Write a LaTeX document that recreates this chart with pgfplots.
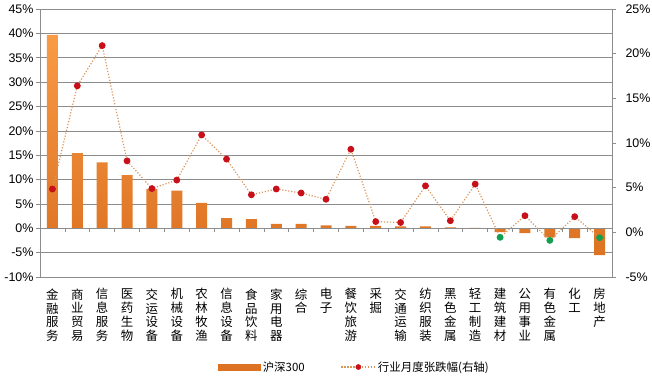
\documentclass[border=0pt]{standalone}
\usepackage{fontspec}
\setmainfont{Liberation Sans}
\newfontfamily\cjk{Noto Sans CJK SC}
\usepackage{pgfplots}
\pgfplotsset{compat=1.18}
\usepackage{pgfplotstable}

\definecolor{barlight}{HTML}{F99B46}
\definecolor{bardark}{HTML}{DC7222}
\definecolor{linec}{HTML}{D8965C}
\definecolor{dotred}{HTML}{C8101A}
\definecolor{dotgreen}{HTML}{12A050}
\definecolor{gridc}{HTML}{8C8C8C}

\pgfplotstableread{
x bar line cls
0 39.7 4.85 p
1 15.4 16.4 p
2 13.5 20.9 p
3 10.9 8.0 p
4 8.1 4.9 p
5 7.7 5.85 p
6 5.2 10.9 p
7 2.1 8.2 p
8 1.9 4.2 p
9 0.9 4.85 p
10 0.9 4.4 p
11 0.6 3.7 p
12 0.5 9.3 p
13 0.5 1.2 p
14 0.4 1.1 p
15 0.4 5.2 p
16 0.2 1.3 p
17 0.1 5.4 p
18 -0.8 -0.56 n
19 -1.0 1.86 p
20 -1.85 -0.9 n
21 -2.0 1.75 p
22 -5.5 -0.6 n
}\data

\pgfplotsset{
  common/.style={
    scale only axis, width=572bp, height=268bp,
    xmin=-0.5, xmax=22.5,
    /pgf/number format/assume math mode=true,
    yticklabel={\pgfmathprintnumber{\tick}\%},
    ticklabel style={font=\fontsize{12.5}{14}\selectfont},
    tick align=outside, major tick length=4bp,
    y tick style={gridc, line width=0.6pt},
    y axis line style={gridc, line width=0.6pt},
  }
}

\begin{document}
\begin{tikzpicture}
\begin{axis}[common,
  ymin=-10, ymax=45, ytick={-10,-5,...,45},
  ymajorgrids, grid style={gridc, line width=0.6pt},
  axis y line*=left, axis x line*=bottom,
  x axis line style={gridc, line width=0.6pt},
  xtick={0,...,22}, x tick style={draw=none},
  yticklabel style={xshift=1bp},
  xticklabel style={anchor=north, yshift=-4bp, align=center,
    font=\fontsize{12.5}{14}\selectfont\cjk},
  xticklabels={{金\\融\\服\\务},{商\\业\\贸\\易},{信\\息\\服\\务},{医\\药\\生\\物},
    {交\\运\\设\\备},{机\\械\\设\\备},{农\\林\\牧\\渔},{信\\息\\设\\备},
    {食\\品\\饮\\料},{家\\用\\电\\器},{综\\合},{电\\子},{餐\\饮\\旅\\游},
    {采\\掘},{交\\通\\运\\输},{纺\\织\\服\\装},{黑\\色\\金\\属},{轻\\工\\制\\造},
    {建\\筑\\建\\材},{公\\用\\事\\业},{有\\色\\金\\属},{化\\工},{房\\地\\产}},
]
\coordinate (sw) at (rel axis cs:0,0);
\coordinate (ne) at (rel axis cs:1,1);
\addplot[ybar, bar width=11bp, draw=none, top color=barlight, bottom color=bardark]
  table[x=x, y=bar] {\data};
\draw[gridc, line width=0.6pt] (axis cs:-0.5,0) -- (axis cs:22.5,0);
\pgfplotsinvokeforeach{-0.5,0.5,...,22.5}{
  \draw[gridc, line width=0.6pt] (axis cs:#1,0) -- ++(0pt,-4bp);
}
\end{axis}
\begin{axis}[common,
  ymin=-5, ymax=25, ytick={-5,0,...,25},
  axis y line*=right, axis x line=none,
  yticklabel style={xshift=6bp},
  legend style={at={(0.55,-0.336)}, anchor=center, draw=none, fill=none,
    legend columns=2, font=\fontsize{11.5}{14}\selectfont\cjk,
    /tikz/every even column/.append style={column sep=34bp}},
]
\addlegendimage{legend image code/.code={
  \fill[bardark] (0bp,-3bp) rectangle (42bp,3bp);}}
\addlegendentry{沪深300}
\addlegendimage{legend image code/.code={
  \draw[linec, line width=1.2pt, dash pattern=on 1.2pt off 1.8pt] (0bp,0bp) -- (34bp,0bp);
  \fill[dotred] (17bp,0bp) circle (2.6bp);}}
\addlegendentry{行业月度张跌幅(右轴)}
\addplot[linec, line width=1.2pt, dash pattern=on 1.2pt off 1.8pt,
  scatter, scatter src=explicit symbolic, mark=*, mark size=2.8bp,
  mark options={solid},
  scatter/classes={p={mark=*, draw=dotred, fill=dotred}, n={mark=*, draw=dotgreen, fill=dotgreen}},
  forget plot]
  table[x=x, y=line, meta=cls] {\data};
\end{axis}
\pgfresetboundingbox
\path ([shift={(-40bp,-104bp)}]sw) rectangle ([shift={(40bp,9bp)}]ne);
\end{tikzpicture}
\end{document}
